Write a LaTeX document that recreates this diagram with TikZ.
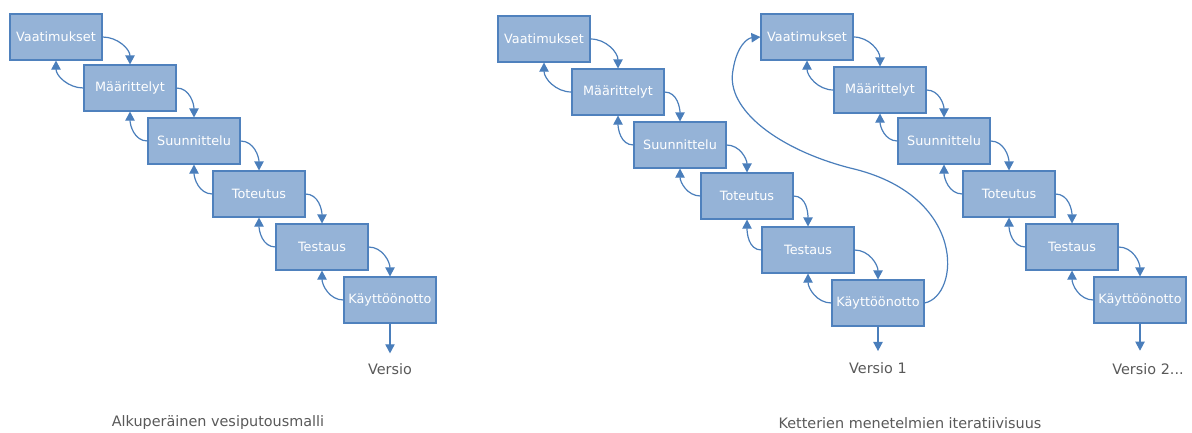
\documentclass[tikz,border=0pt]{standalone}
\usepackage{fontspec}
\setmainfont{DejaVu Sans}
\usepackage{tikz}
\usetikzlibrary{arrows.meta,shadows}
\definecolor{phasefill}{RGB}{149,179,215}
\definecolor{phaseline}{RGB}{79,129,189}
\definecolor{flowblue}{RGB}{74,126,187}
\definecolor{labelgrey}{RGB}{89,89,89}

\begin{document}
\begin{tikzpicture}[x=0.75pt,y=0.75pt,
  phase/.style={draw=phaseline,fill=phasefill,line width=0.8pt,
    minimum width=69pt,minimum height=34.5pt,inner sep=0pt,text=white,
    font=\fontsize{9.6}{11}\selectfont,
    drop shadow={opacity=0.22,shadow xshift=1pt,shadow yshift=-1pt}},
  flow/.style={flowblue,line width=0.9pt,-{Triangle[length=6.8pt,width=7pt]}},
  caption/.style={text=labelgrey,font=\fontsize{10.8}{13}\selectfont}]
  \useasboundingbox (0,0) rectangle (1192,-432);
  % alkuperainen vesiputous
  \node[phase] (a1) at (56,-37) {Vaatimukset};
  \node[phase] (a2) at (130,-88) {Määrittelyt};
  \node[phase] (a3) at (194,-141) {Suunnittelu};
  \node[phase] (a4) at (259,-194) {Toteutus};
  \node[phase] (a5) at (322,-247) {Testaus};
  \node[phase] (a6) at (390,-300) {Käyttöönotto};
  % ensimmainen iteraatio
  \node[phase] (b1) at (544,-39) {Vaatimukset};
  \node[phase] (b2) at (618,-92) {Määrittelyt};
  \node[phase] (b3) at (680,-145) {Suunnittelu};
  \node[phase] (b4) at (747,-196) {Toteutus};
  \node[phase] (b5) at (808,-250) {Testaus};
  \node[phase] (b6) at (878,-303) {Käyttöönotto};
  % toinen iteraatio
  \node[phase] (c1) at (807,-37) {Vaatimukset};
  \node[phase] (c2) at (880,-90) {Määrittelyt};
  \node[phase] (c3) at (944,-141) {Suunnittelu};
  \node[phase] (c4) at (1009,-194) {Toteutus};
  \node[phase] (c5) at (1072,-247) {Testaus};
  \node[phase] (c6) at (1140,-300) {Käyttöönotto};
  \foreach \p in {a,b,c}{
    \foreach \i/\j in {1/2,2/3,3/4,4/5,5/6}{
      \draw[flow] (\p\i.east) to[out=0,in=90] (\p\j.north);
      \draw[flow] (\p\j.west) to[out=180,in=-90] (\p\i.south);
    }
  }
  \node[caption] (ver0) at (390,-369) {Versio};
  \node[caption] (ver1) at (878,-368) {Versio 1};
  \node[caption] (ver2) at (1148,-369) {Versio 2...};
  \draw[flow,shorten >=4pt] (a6.south) -- (ver0.north);
  \draw[flow,shorten >=5pt] (b6.south) -- (ver1.north);
  \draw[flow,shorten >=6pt] (c6.south) -- (c6.south |- ver2.north);
  \draw[flow] (b6.east) .. controls (960,-296) and (968,-195) .. (850,-168)
    .. controls (780,-150) and (725,-110) .. (733,-70)
    .. controls (737,-45) and (748,-38) .. (c1.west);
  \node[caption] (cap1) at (218,-423) {Alkuperäinen vesiputousmalli};
  \node[caption] (cap2) at (910,-423) {Ketterien menetelmien iteratiivisuus};
\end{tikzpicture}
\end{document}
